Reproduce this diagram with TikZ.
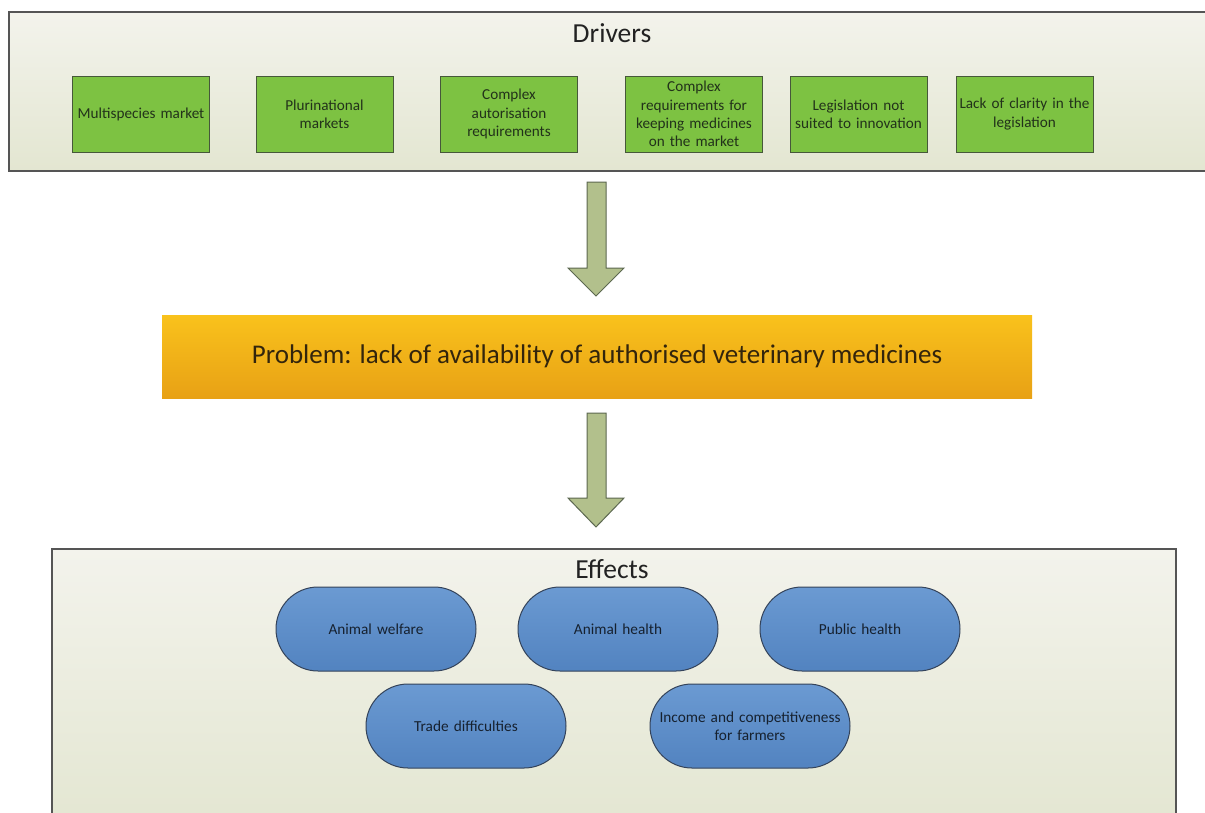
\documentclass[tikz,border=0pt]{standalone}
\usepackage{fontspec}
\setmainfont{Carlito}
\definecolor{panelTop}{HTML}{F3F3EC}
\definecolor{panelBot}{HTML}{E3E6D1}
\definecolor{panelLine}{HTML}{555555}
\definecolor{greenFill}{HTML}{7DC242}
\definecolor{greenLine}{HTML}{46583A}
\definecolor{greenText}{HTML}{22321A}
\definecolor{arrowFill}{HTML}{B2C08C}
\definecolor{arrowLine}{HTML}{5C6850}
\definecolor{probTop}{HTML}{F9C21C}
\definecolor{probBot}{HTML}{E8A115}
\definecolor{probText}{HTML}{33250C}
\definecolor{blueTop}{HTML}{6B9AD2}
\definecolor{blueBot}{HTML}{5283C0}
\definecolor{blueLine}{HTML}{34435A}
\definecolor{blueText}{HTML}{16212F}
\definecolor{titleText}{HTML}{222222}
\tikzset{
  panel/.style={draw=panelLine, line width=1.3pt, top color=panelTop, bottom color=panelBot},
  driverbox/.style={draw=greenLine, line width=1pt, fill=greenFill, minimum width=137pt, minimum height=76pt,
    text width=134pt, align=center, font=\fontsize{15.2}{18.3}\selectfont, text=greenText, inner sep=0pt},
  effectbox/.style={draw=blueLine, line width=1pt, top color=blueTop, bottom color=blueBot,
    rounded corners=42pt, minimum width=200pt, minimum height=84pt, text width=198pt, align=center,
    font=\fontsize{15.3}{18}\selectfont, text=blueText, inner sep=0pt},
  probbox/.style={top color=probTop, bottom color=probBot, minimum width=870pt, minimum height=83pt,
    font=\fontsize{27}{32}\selectfont, text=probText, inner sep=0pt},
  paneltitle/.style={font=\fontsize{27.5}{32}\selectfont, text=titleText, inner sep=0pt},
  blockarrow/.style={draw=arrowLine, line width=1pt, fill=arrowFill, line join=miter},
}
\begin{document}
\begin{tikzpicture}[x=1pt,y=-1pt]
\useasboundingbox[fill=white] (0,0) rectangle (1205,812);
% Drivers panel
\path[panel] (9,12) rectangle (1212,171);
\node[paneltitle] (drivers) at (612,33) {Drivers};
\node[driverbox] (d1) at (141,114) {Multispecies market};
\node[driverbox] (d2) at (324.5,114) {Plurinational\\markets};
\node[driverbox] (d3) at (509,114) {Complex\\autorisation\\requirements};
\node[driverbox] (d4) at (694,114) {Complex\\requirements for\\keeping medicines\\on the market};
\node[driverbox] (d5) at (858.5,114) {Legislation not\\suited to innovation};
\node[driverbox] (d6) at (1024.5,114) {Lack of clarity in the\\legislation};
% arrow 1
\draw[blockarrow] (587,182) -- (606,182) -- (606,268) -- (624,268) -- (596,296) -- (568,268) -- (587,268) -- cycle;
% Problem
\node[probbox] (prob) at (597,356.5) {Problem: lack of availability of authorised veterinary medicines};
% arrow 2
\draw[blockarrow] (587,413) -- (606,413) -- (606,498) -- (624,498) -- (596,527) -- (568,498) -- (587,498) -- cycle;
% Effects panel
\path[panel] (52,549) rectangle (1176,830);
\node[paneltitle] (effects) at (612,569) {Effects};
\node[effectbox] (e1) at (376,629) {Animal welfare};
\node[effectbox] (e2) at (618,629) {Animal health};
\node[effectbox] (e3) at (860,629) {Public health};
\node[effectbox] (e4) at (466,726) {Trade difficulties};
\node[effectbox] (e5) at (750,726) {Income and competitiveness\\for farmers};
\end{tikzpicture}
\end{document}
